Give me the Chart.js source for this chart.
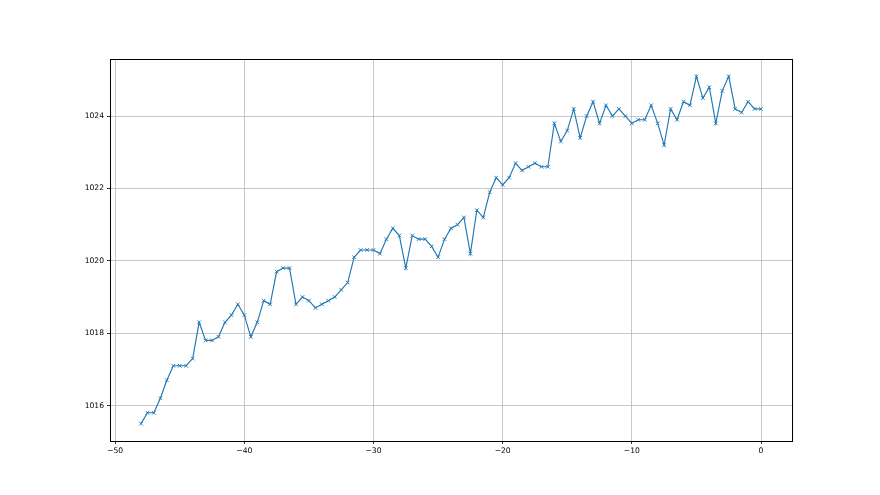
<!DOCTYPE html>
<html>
<head>
<meta charset="utf-8">
<script src="https://cdn.jsdelivr.net/npm/chart.js@4"></script>
<style>
  html, body { margin: 0; padding: 0; background: #fff; }
  #wrap { width: 880px; height: 495px; position: relative; }
</style>
</head>
<body>
<div id="wrap"><canvas id="c" width="880" height="495"></canvas></div>
<script>
// x positions (hours back), step 0.5
const xs = [
  -48, -47.5, -47, -46.5, -46, -45.5, -45, -44.5, -44, -43.5,
  -43, -42.5, -42, -41.5, -41, -40.5, -40, -39.5, -39, -38.5,
  -38, -37.5, -37, -36.5, -36, -35.5, -35, -34.5, -34, -33.5,
  -33, -32.5, -32, -31.5, -31, -30.5, -30, -29.5, -29, -28.5,
  -28, -27.5, -27, -26.5, -26, -25.5, -25, -24.5, -24, -23.5,
  -23, -22.5, -22, -21.5, -21, -20.5, -20, -19.5, -19, -18.5,
  -18, -17.5, -17, -16.5, -16, -15.5, -15, -14.5, -14, -13.5,
  -13, -12.5, -12, -11.5, -11, -10.5, -10, -9.5, -9, -8.5,
  -8, -7.5, -7, -6.5, -6, -5.5, -5, -4.5, -4, -3.5,
  -3, -2.5, -2, -1.5, -1, -0.5, 0
];

// pressure readings
const pressure = [
  1015.5, 1015.8, 1015.8, 1016.2, 1016.7, 1017.1, 1017.1, 1017.1, 1017.3, 1018.3,
  1017.8, 1017.8, 1017.9, 1018.3, 1018.5, 1018.8, 1018.5, 1017.9, 1018.3, 1018.9,
  1018.8, 1019.7, 1019.8, 1019.8, 1018.8, 1019.0, 1018.9, 1018.7, 1018.8, 1018.9,
  1019.0, 1019.2, 1019.4, 1020.1, 1020.3, 1020.3, 1020.3, 1020.2, 1020.6, 1020.9,
  1020.7, 1019.8, 1020.7, 1020.6, 1020.6, 1020.4, 1020.1, 1020.6, 1020.9, 1021.0,
  1021.2, 1020.2, 1021.4, 1021.2, 1021.9, 1022.3, 1022.1, 1022.3, 1022.7, 1022.5,
  1022.6, 1022.7, 1022.6, 1022.6, 1023.8, 1023.3, 1023.6, 1024.2, 1023.4, 1024.0,
  1024.4, 1023.8, 1024.3, 1024.0, 1024.2, 1024.0, 1023.8, 1023.9, 1023.9, 1024.3,
  1023.8, 1023.2, 1024.2, 1023.9, 1024.4, 1024.3, 1025.1, 1024.5, 1024.8, 1023.8,
  1024.7, 1025.1, 1024.2, 1024.1, 1024.4, 1024.2, 1024.2
];

const xTicks = [-50, -40, -30, -20, -10, 0];
const yTicks = [1016, 1018, 1020, 1022, 1024];

const points = xs.map((x, i) => ({ x: x, y: pressure[i] }));

// matplotlib draws all four spines
const frame = {
  id: 'frame',
  afterDraw(chart) {
    const a = chart.chartArea;
    const c = chart.ctx;
    c.save();
    c.strokeStyle = '#000';
    c.lineWidth = 1;
    c.strokeRect(Math.round(a.left) + 0.5, Math.round(a.top) + 0.5,
      Math.round(a.right - a.left), Math.round(a.bottom - a.top));
    c.restore();
  }
};

const tickFont = { family: 'DejaVu Sans', size: 7.6 };

new Chart(document.getElementById('c'), {
  type: 'line',
  data: {
    datasets: [{
      data: points,
      borderColor: '#1f77b4',
      backgroundColor: '#1f77b4',
      borderWidth: 1.15,
      pointStyle: 'crossRot',
      pointRadius: 2.6,
      pointBorderWidth: 0.9,
      pointHoverRadius: 2.6,
      tension: 0
    }]
  },
  options: {
    responsive: false,
    animation: false,
    layout: { padding: { top: 59, right: 88, left: 0, bottom: 0 } },
    plugins: { legend: { display: false }, tooltip: { enabled: false } },
    scales: {
      x: {
        type: 'linear',
        min: -50.4,
        max: 2.4,
        afterBuildTicks: s => { s.ticks = xTicks.map(v => ({ value: v })); },
        afterFit: s => { s.height = 54; },
        ticks: {
          color: '#000', font: tickFont, padding: 2, maxRotation: 0,
          callback: v => (v < 0 ? '\u2212' + Math.abs(v) : String(v))
        },
        grid: { color: '#b0b0b0', lineWidth: 0.7, tickLength: 3, tickColor: '#000', tickWidth: 0.8 },
        border: { display: false }
      },
      y: {
        min: 1015.02,
        max: 1025.58,
        afterBuildTicks: s => { s.ticks = yTicks.map(v => ({ value: v })); },
        afterFit: s => { s.width = 110; },
        ticks: { color: '#000', font: tickFont, padding: 3, callback: v => String(v) },
        grid: { color: '#b0b0b0', lineWidth: 0.7, tickLength: 3, tickColor: '#000', tickWidth: 0.8 },
        border: { display: false }
      }
    }
  },
  plugins: [frame]
});
</script>
</body>
</html>
